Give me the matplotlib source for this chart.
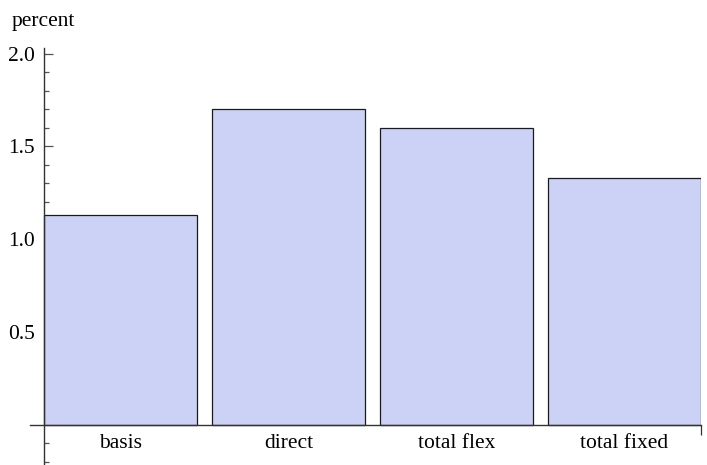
import numpy as np
import matplotlib.pyplot as plt
from matplotlib.ticker import FixedLocator

categories = ["basis", "direct", "total flex", "total fixed"]
values = [1.13, 1.70, 1.60, 1.33]
y_major = [0.5, 1.0, 1.5, 2.0]
y_labels = ["0.5", "1.0", "1.5", "2.0"]

plt.rcParams["font.family"] = ["Liberation Serif", "DejaVu Serif"]

fig = plt.figure(figsize=(7.07, 4.65), dpi=100)
ax = fig.add_axes([30 / 707, 0, 671 / 707, 417 / 465])

width = 0.91
x = np.arange(len(categories))
ax.bar(x, values, width=width, color="#cbd2f5", edgecolor="#1a1a1a",
       linewidth=0.9, zorder=2)

left = x[0] - width / 2
right = x[-1] + width / 2
ax.set_xlim(left - 14 / 168.3, right)
ax.set_ylim(-0.217, 2.03)

for s in ["top", "right"]:
    ax.spines[s].set_visible(False)
ax.spines["left"].set_position(("data", left))
ax.spines["bottom"].set_position(("data", 0))
for s in ["left", "bottom"]:
    ax.spines[s].set_color("#333333")
    ax.spines[s].set_linewidth(1.0)
    ax.spines[s].set_zorder(3)

ax.set_yticks(y_major, y_labels)
minor = [v / 10 for v in range(-2, 21) if v % 5 != 0]
ax.yaxis.set_minor_locator(FixedLocator(minor))
ax.tick_params(axis="y", which="major", direction="in", length=6.3,
               width=0.9, color="#555555", labelsize=15.5, pad=6.5)
ax.tick_params(axis="y", which="minor", direction="in", length=3.6,
               width=0.9, color="#555555")

ax.set_xticks(x, categories)
ax.tick_params(axis="x", which="major", length=0, labelsize=15.5, pad=7)
ax.xaxis.set_minor_locator(FixedLocator([right]))
ax.tick_params(axis="x", which="minor", direction="out", length=7,
               width=0.9, color="#333333")

fig.text(12 / 707, 1 - 26 / 465, "percent", fontsize=15.5, ha="left",
         va="baseline")

fig.savefig("out.png", dpi=100)
